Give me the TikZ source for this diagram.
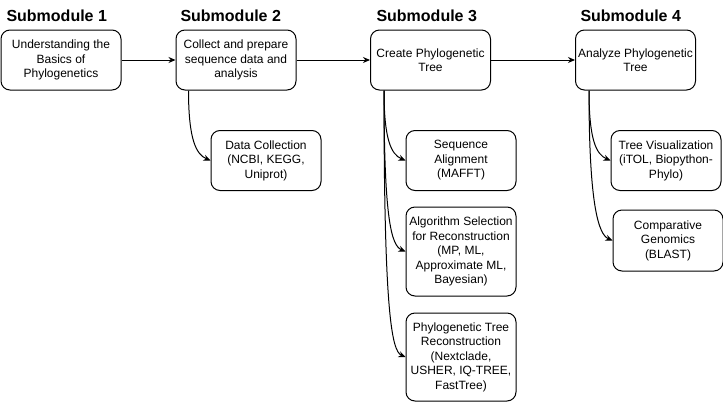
\documentclass[tikz,border=0pt]{standalone}
\usepackage{fontspec}
\setmainfont{Liberation Sans}
\usetikzlibrary{arrows.meta, positioning}

\begin{document}
\begin{tikzpicture}[x=1pt, y=1pt, line width=1pt,
  modbox/.style={draw, rounded corners=9pt, minimum width=120pt, minimum height=60pt,
    align=center, inner sep=1pt, font=\fontsize{12}{14.5}\selectfont},
  subbox/.style={modbox, minimum width=110pt},
  modtitle/.style={anchor=west, inner sep=0pt, font=\fontsize{16}{19}\selectfont\bfseries},
  flow/.style={-{Stealth[length=7pt,width=6pt]}}]
\useasboundingbox (0,0) rectangle (723,-405);

% titles
\node[modtitle] (t1) at (6,-16) {Submodule 1};
\node[modtitle] (t2) at (180,-16) {Submodule 2};
\node[modtitle] (t3) at (376,-16) {Submodule 3};
\node[modtitle] (t4) at (580,-16) {Submodule 4};

% main modules
\node[modbox] (sub1) at (61,-60) {Understanding the\\Basics of\\Phylogenetics};
\node[modbox] (sub2) at (236,-60) {Collect and prepare\\sequence data and\\analysis};
\node[modbox] (sub3) at (430.5,-60) {Create Phylogenetic\\Tree};
\node[modbox] (sub4) at (635.5,-60) {Analyze Phylogenetic\\Tree};

% sub tasks
\node[subbox] (dcol) at (266,-160.5) {Data Collection\\(NCBI, KEGG,\\Uniprot)};
\node[subbox] (salign) at (461,-160.5) {Sequence\\Alignment\\(MAFFT)};
\node[subbox, minimum height=89pt] (algsel) at (461,-251.5) {Algorithm Selection\\for Reconstruction\\(MP, ML,\\Approximate ML,\\Bayesian)};
\node[subbox, minimum height=88pt] (recon) at (461,-357) {Phylogenetic Tree\\Reconstruction\\(Nextclade,\\USHER, IQ-TREE,\\FastTree)};
\node[subbox] (tvis) at (666,-160.5) {Tree Visualization\\(iTOL, Biopython-\\Phylo)};
\node[subbox, minimum height=61pt] (cgen) at (668,-240.5) {Comparative\\Genomics\\(BLAST)};

% flow between modules
\draw[flow] (sub1) -- (sub2);
\draw[flow] (sub2) -- (sub3);
\draw[flow] (sub3) -- (sub4);

% branches
\draw[flow] ([xshift=13pt]sub2.south west) .. controls +(0,-50) and +(-14,6) .. (dcol.west);
\draw[flow] ([xshift=14pt]sub3.south west) .. controls +(0,-50) and +(-14,6) .. (salign.west);
\draw[flow] ([xshift=14pt]sub3.south west) .. controls +(0,-130) and +(-14,6) .. (algsel.west);
\draw[flow] ([xshift=14pt]sub3.south west) .. controls +(0,-220) and +(-14,6) .. (recon.west);
\draw[flow] ([xshift=14pt]sub4.south west) .. controls +(0,-50) and +(-14,6) .. (tvis.west);
\draw[flow] ([xshift=14pt]sub4.south west) .. controls +(0,-115) and +(-14,6) .. (cgen.west);
\end{tikzpicture}
\end{document}
